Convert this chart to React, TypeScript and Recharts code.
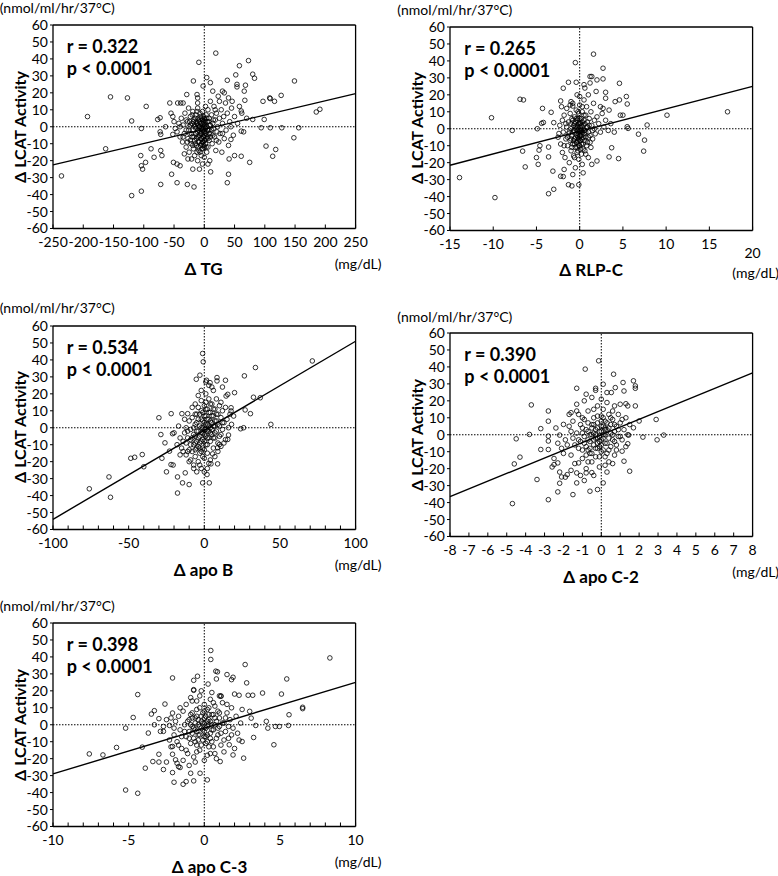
import React from "react";
import { ScatterChart, Scatter, XAxis, YAxis, ReferenceLine } from "recharts";

type Pt = [number, number];

const yTicks = [-60, -50, -40, -30, -20, -10, 0, 10, 20, 30, 40, 50, 60];

// Δ TG
const tgTicks = [-250, -200, -150, -100, -50, 0, 50, 100, 150, 200, 250];
const tgFit: Pt[] = [[-250, -22.5], [250, 19.5]];
const tgPoints: Pt[] = [
  [-236, -29], [-193, 6], [-163, -13], [-155, 17.6], [-127, 17], [-120, 3.4], [-120, -40.6], [-104, -38],
  [-105, -17], [-104, -23], [-102, -25], [-97, -21], [-96, 12], [-104, -1], [-88, -13], [-83, -18],
  [-77, 4.3], [-73, 5.3], [-73, -3], [-72, -4.5], [-72, -14], [-70, -17], [-72, -34], [-64, 0],
  [-57, 14], [-55, 8], [-52, 6], [-52, -4.5], [-54, -28], [-51, -21], [-45, -33], [-45, -22],
  [-40, -23], [-44, 14], [-39, 14], [-35, 14], [-29, 19], [-28, -34], [-19, -25], [-17, -35.5],
  [-18, 27], [-11, 14], [-12, 19], [-11, 17], [-9, 38], [-2, 24], [4, 29], [19, 43.4],
  [10, 26], [10.5, -26.6], [14, 21], [25, 15], [30, 21], [33, 20], [38, 27.4], [40, 17],
  [44, 0], [46, 15], [40, -28], [38, -33], [41, -19], [44, -7.5], [50, -17], [52, 30.6],
  [54, 25], [54, 23.5], [58, 36], [61, -17.4], [61, -2.6], [61, 9.3], [66, 21], [68, 24.5],
  [67, 15.6], [73, 39], [75, -21], [80, 31], [83, 28.6], [80, 4.3], [94, -0.6], [97, 15],
  [99, 4.3], [102, -11.4], [108, 17], [109, 16.6], [109, -0.6], [113, -17.4], [116, 15], [118, -13.4],
  [127, 18.5], [128, -0.6], [148, -6.5], [149, 27], [156, -0.6], [185, 8.7], [191, 10.3],
  [-48, -1], [-45, -3], [-42, 2], [-40, -6], [-38, 5], [-36, -9], [-35, 1], [-33, -4],
  [-32, 8], [-30, -12], [-30, -2], [-28, 3], [-27, -7], [-26, 11], [-25, -15], [-25, 0],
  [-24, -4], [-23, 6], [-22, -10], [-21, -19], [-20, 2], [-20, -6], [-19, 9], [-18, -2],
  [-18, -13], [-17, 4], [-16, -8], [-16, -17], [-15, 0], [-14, -4], [-14, 7], [-13, -11],
  [-12, 2], [-12, -6], [-11, -20], [-11, 11], [-10, -2], [-10, -9], [-9, 4], [-9, -14],
  [-8, 0], [-8, -5], [-7, 8], [-7, -3], [-6, -11], [-6, 2], [-5, -7], [-5, 5],
  [-5, -17], [-4, -1], [-4, -4], [-3, 9], [-3, -9], [-3, -22], [-2, 3], [-2, -6],
  [-2, -13], [-1, 0], [-1, -3], [-1, 6], [0, -8], [0, -18], [0, 1], [1, -5],
  [1, 4], [2, -1], [2, -10], [2, 12], [3, -3], [3, 7], [4, -15], [4, 0],
  [5, -6], [5, 3], [6, 10], [6, -12], [7, -2], [8, 5], [8, -8], [9, -20],
  [10, 1], [10, 15], [11, -4], [12, 7], [13, -10], [14, 2], [15, -1], [16, 12],
  [17, -6], [18, 4], [19, -14], [20, 8], [21, -3], [22, 0], [23, 18], [24, -9],
  [25, 5], [26, -4], [28, 10], [29, -15], [30, 2], [32, 6], [33, -7], [35, 14],
  [36, -2], [38, 8], [40, -11], [42, 3], [45, 11], [48, -5], [50, 6], [55, 2],
  [58, 12], [62, 8], [65, -3], [70, 5],
  [-26, -2], [-24, 3], [-23, -8], [-22, 1], [-21, -4], [-20, 7], [-19, -11], [-18, 3],
  [-17, -6], [-16, 1], [-15, -10], [-15, 5], [-14, -1], [-13, -7], [-13, 3], [-12, -15],
  [-12, 9], [-11, -3], [-11, 1], [-10, -12], [-10, 5], [-9, -6], [-9, 0], [-8, -9],
  [-8, 3], [-7, -15], [-7, 0], [-6, -4], [-6, 6], [-5, -1], [-5, -10], [-4, 2],
  [-4, -7], [-4, -13], [-3, -2], [-3, 4], [-2, -9], [-2, -1], [-1, -11], [-1, -6],
  [-1, 2], [0, -3], [0, -12], [0, 5], [1, -8], [1, 0], [2, -4], [2, 3],
  [3, -7], [3, -12], [4, 5], [5, -2], [6, -7], [7, 3], [8, -4], [9, 1],
  [10, -6], [12, -2], [14, -5], [15, 4], [-35, -6], [-30, 4], [-28, -9], [-40, 0],
  [-50, 3], [30, -4], [20, -8], [18, 10], [-33, -16], [-27, -19], [-8, -25], [6, -22],
];

// Δ RLP-C
const rlpTicks = [-15, -10, -5, 0, 5, 10, 15, 20];
const rlpFit: Pt[] = [[-15, -21.5], [20, 25]];
const rlpPoints: Pt[] = [
  [-13.9, -28.8], [-10.2, 6.5], [-9.8, -40.6], [-7.8, -1], [-6.9, 17.4], [-6.5, 17], [-6.6, -13.2], [-6.3, -22.5],
  [-4.9, 0], [-5, -17], [-4.8, -21], [-4.7, -12.6], [-4.6, -10], [-4.3, 12], [-4.2, 3.7], [-4.4, 3.2],
  [-3.6, -38.3], [-3.6, -10.8], [-3.6, -16.6], [-3.3, 9.7], [-3.1, -25], [-3, -35.7], [-3, 3.6], [-2.4, -2.8],
  [-2.2, 16.4], [-2.1, 13], [-1.9, 23.9], [-1.9, -28.2], [-1.3, 27.4], [-1.3, -33], [-0.9, -33.7], [-1.1, 14],
  [-0.8, 13.4], [-0.5, 39], [-0.4, 27.4], [-0.1, -33], [0.5, 26], [1.6, 44], [1.2, 30.8], [1.4, 30.8],
  [2, 28.8], [2.7, 35.7], [2.7, 29.4], [3, 21.5], [3, 18], [3.4, 11], [2.7, 12], [3.4, -16.6],
  [3.7, -11.2], [4.1, 16], [4.6, 17], [4.6, 26.8], [4.5, -17.6], [4.7, 8], [5, 8], [5.4, 19],
  [5.5, 14.6], [5.5, 1.2], [5.6, 0.2], [6.8, -3.2], [7.5, -6.7], [7.4, -13.2], [7.8, 2.2], [10.1, 8],
  [17.1, 10],
  [-2.5, -5], [-2.3, 2], [-2.2, -9], [-2, 5], [-2, -14], [-1.9, -2], [-1.8, 8], [-1.7, -17],
  [-1.6, -6], [-1.5, 1], [-1.5, 12], [-1.4, -10], [-1.3, -3], [-1.3, 4], [-1.2, -20], [-1.1, -7],
  [-1.1, 9], [-1, 0], [-1, -13], [-0.9, 6], [-0.9, -4], [-0.8, -9], [-0.8, 15], [-0.7, 2],
  [-0.7, -16], [-0.6, -1], [-0.6, -6], [-0.6, 7], [-0.5, -11], [-0.5, 4], [-0.5, -23], [-0.4, 0],
  [-0.4, -3], [-0.4, 11], [-0.3, -8], [-0.3, -14], [-0.3, 2], [-0.2, 6], [-0.2, -5], [-0.2, -1],
  [-0.1, -18], [-0.1, 9], [-0.1, -10], [0, 3], [0, -2], [0, -7], [0, 14], [0, 19],
  [0.1, -4], [0.1, 1], [0.1, -12], [0.2, 6], [0.2, -15], [0.2, -1], [0.3, 10], [0.3, -6],
  [0.3, -21], [0.4, 2], [0.4, -9], [0.5, 5], [0.5, -3], [0.5, 17], [0.6, -1], [0.6, -13],
  [0.7, 8], [0.7, -5], [0.8, 1], [0.8, 13], [0.9, -8], [0.9, 4], [1, -2], [1, -17],
  [1, 20], [1.1, 6], [1.2, -4], [1.3, 10], [1.3, -11], [1.4, 2], [1.5, -6], [1.6, 15],
  [1.7, 0], [1.8, -3], [2, 7], [2, -19], [2.2, 3], [2.4, -2], [2.6, 9], [2.8, 1],
  [3, 5], [3.3, -1], [3.6, 3], [4, -2], [2.4, 13], [1.9, 22], [1.2, 27], [0.6, 24],
  [-0.3, 20], [-1, 16], [-1.8, -24], [-2.2, -28], [-0.8, -27], [0.4, -26], [1.4, -21],
  [-1.2, -2], [-1, -6], [-1, 3], [-0.9, -11], [-0.8, -2], [-0.8, 5], [-0.7, -7], [-0.7, -1],
  [-0.6, -9], [-0.6, 3], [-0.5, -5], [-0.5, 1], [-0.4, -8], [-0.4, 6], [-0.3, -4], [-0.3, -11],
  [-0.3, 5], [-0.2, -7], [-0.2, 1], [-0.2, -13], [-0.1, -3], [-0.1, 3], [-0.1, -6], [0, -1],
  [0, -4], [0, -10], [0, 6], [0.1, -7], [0.1, -1], [0.1, 3], [0.2, -4], [0.2, -9],
  [0.2, 2], [0.3, -2], [0.3, 4], [0.4, -5], [0.4, -12], [0.5, -1], [0.5, 8], [0.6, -7],
  [0.6, 3], [0.7, -2], [0.8, -10], [0.9, 1], [1, -5], [1.1, 2], [1.2, -8], [-1.4, -5],
  [-1.6, 3], [-1.8, -10], [1.5, -1], [1.7, 5], [-0.2, 10], [0.3, 13], [-0.6, -17], [0.7, -15],
];

// Δ apo B
const apoBTicks = [-100, -90, -80, -70, -60, -50, -40, -30, -20, -10, 0, 10, 20, 30, 40, 50, 60, 70, 80, 90, 100];
const apoBLabels = [-100, -50, 0, 50, 100];
const apoBFit: Pt[] = [[-100, -54], [100, 51]];
const apoBPoints: Pt[] = [
  [-76, -36], [-63, -29], [-62, -41], [-48.6, -18], [-46, -17.4], [-41, -15.8], [-40, -23], [-30, 5.9],
  [-28.7, -4], [-28, -18], [-25, -26], [-26, -8.9], [-23, -13.8], [-22, -21.7], [-20.6, -22], [-21.9, 8.3],
  [-21, -3.5], [-17.7, -38.5], [-17.7, -29], [-14.4, -32.5], [-12.6, -26.6], [-10, -33.5], [-14.8, 8.3], [-11, 8.3],
  [-5.3, 28.6], [-2.9, 31], [-1.1, 43.8], [-0.7, 38.9], [-1.1, -32.5], [1.8, -27.6], [3.3, -32.5], [1.5, 28],
  [3.8, 26.6], [8.4, 29.6], [8.4, 27.6], [12, 24], [14, 28], [14.4, 18.7], [15.5, 19.7], [20, 20.7],
  [17.7, 11.8], [17.7, 9.9], [19.4, 6.9], [26.5, 30.6], [27, 10.5], [30.5, 8.3], [24, -0.6], [26, 0],
  [32.5, 18], [37, 17.7], [33.8, 35.5], [44, 2], [71.4, 39.4], [8.8, -21.3], [4.4, -21.3], [8.8, -11.8],
  [10, -9.9], [15.5, -6.9], [16, -4.3], [5.5, -15.4],
  [-15, -12], [-14, -8], [-13, -3], [-12, -16], [-12, 0], [-11, -6], [-10, -20], [-10, 4],
  [-9, -10], [-9, -1], [-8, -14], [-8, 6], [-7, -4], [-7, -22], [-6, 2], [-6, -9],
  [-6, -17], [-5, 8], [-5, -2], [-5, -12], [-4, -6], [-4, 12], [-4, -20], [-3, 1],
  [-3, -9], [-3, -15], [-2, 5], [-2, -3], [-2, 16], [-2, -24], [-1, -7], [-1, 0],
  [-1, 9], [-1, -12], [0, 3], [0, -4], [0, -18], [0, 13], [1, -1], [1, 7],
  [1, -10], [1, 20], [2, 2], [2, -6], [2, 11], [2, -15], [3, -2], [3, 5],
  [3, 17], [3, -21], [4, 0], [4, 9], [4, -8], [5, 3], [5, 14], [5, -4],
  [6, -12], [6, 7], [6, 22], [7, 1], [7, -6], [7, 11], [8, 4], [8, -2],
  [8, 17], [9, -9], [9, 8], [10, 1], [10, 13], [11, -4], [11, 6], [12, 10],
  [12, -1], [13, 3], [14, 12], [14, -7], [15, 5], [16, 0], [17, 8], [18, 2],
  [-16, -6], [-18, -10], [-20, -3], [-17, 1], [-13, 5], [-11, -14], [-9, -19], [-7, -24],
  [-5, -26], [-3, -22], [0, -26], [2, -24], [4, -19], [5, 24], [3, 25], [1, 27],
  [-2, 22], [-4, 19], [-6, 14], [-8, 12], [9, -14], [11, -11], [13, -9], [7, -17],
  [-8, -6], [-7, -10], [-7, 0], [-6, -5], [-6, -13], [-5, -8], [-5, 3], [-4, -2],
  [-4, -11], [-4, 5], [-3, -5], [-3, -12], [-3, 8], [-2, -8], [-2, 0], [-2, -14],
  [-1, -3], [-1, 4], [-1, -17], [0, -1], [0, -8], [0, 7], [0, -13], [1, 2],
  [1, -5], [1, 11], [2, -2], [2, 5], [2, -10], [3, 1], [3, -6], [3, 9],
  [4, -3], [4, 4], [4, 14], [5, -1], [5, 7], [6, 1], [6, -6], [6, 11],
  [7, 4], [7, -3], [8, 8], [9, 2], [10, -5], [-9, -7], [-10, -13], [-11, -2],
  [-12, -9], [-14, -14], [-16, -16], [11, 15], [12, 3], [-2, 10], [1, 15], [-6, 8],
];

// Δ apo C-2
const apoC2Ticks = [-8, -7, -6, -5, -4, -3, -2, -1, 0, 1, 2, 3, 4, 5, 6, 7, 8];
const apoC2Fit: Pt[] = [[-8, -36.5], [8, 36.5]];
const apoC2Points: Pt[] = [
  [-4.7, -40.6], [-4.6, -17.2], [-4.5, -2.4], [-4.3, -13.2], [-3.8, 0.2], [-3.7, 17.6], [-3.4, -26.4], [-3.2, 3.6],
  [-3.2, -8.7], [-2.8, 14], [-2.8, -0.8], [-2.8, -3.7], [-2.8, -8.7], [-2.8, -38.3], [-2.5, -17.6], [-2.3, -16.6],
  [-2.3, -33.7], [-2.2, -28.6], [-2.2, -0.2], [-2.1, -24.9], [-2, 6.1], [-1.8, -23.5], [-1.7, 12], [-1.5, -35.3],
  [-1.3, 27.4], [-1.3, 14], [-1.2, -16.6], [-1.3, -22.5], [-1.3, -28.4], [-0.85, 38.7], [-0.8, 23.9], [-0.6, -33.3],
  [-0.8, -22.5], [-0.5, -22.3], [-0.3, 27.4], [-0.3, 26.2], [-0.14, 43.6], [-0.2, -32.3], [0.1, 29.8], [0.1, -28.4],
  [0.3, 24.9], [0.53, 24.9], [0.65, 35.7], [0.74, 27.8], [1, 18], [1.1, -9.7], [1.15, 30.8], [1.2, 25.8],
  [1.2, -15.6], [1.4, 17], [1.3, 18.3], [1.4, -5.3], [1.45, -0.2], [1.5, -21.5], [1.7, 31.8], [1.7, 4.1],
  [1.8, 27.4], [1.8, 28.8], [1.8, 17], [2, 8.1], [2.2, -1.4], [2.9, 9], [2.95, -3], [3.3, -0.2],
  [-1.8, -6], [-1.7, 5], [-1.6, -12], [-1.5, -2], [-1.5, 8], [-1.4, -17], [-1.3, 1], [-1.2, -8],
  [-1.2, 12], [-1.1, -4], [-1, 4], [-1, -14], [-0.9, -1], [-0.9, 9], [-0.8, -7], [-0.8, -20],
  [-0.7, 2], [-0.7, 14], [-0.6, -4], [-0.6, -11], [-0.5, 6], [-0.5, 0], [-0.5, -16], [-0.4, -6],
  [-0.4, 10], [-0.3, -2], [-0.3, 3], [-0.3, -13], [-0.2, 7], [-0.2, -8], [-0.2, 17], [-0.1, -1],
  [-0.1, -4], [-0.1, -19], [0, 2], [0, 11], [0, -10], [0, -6], [0.1, 5], [0.1, -2],
  [0.1, 15], [0.2, -13], [0.2, 0], [0.2, 8], [0.3, -5], [0.3, 3], [0.4, -9], [0.4, 12],
  [0.4, -16], [0.5, 1], [0.5, 6], [0.6, -3], [0.6, 9], [0.7, -12], [0.7, 2], [0.8, 5],
  [0.8, -6], [0.9, 12], [0.9, -1], [1, 7], [1.1, -3], [1.2, 3], [1.3, 10], [1.4, 0],
  [1.5, 6], [-2, -11], [-2.3, -5], [-2.5, -14], [-2.6, -19], [-2.2, -22], [-1.9, -25], [-1.6, -21],
  [-1.1, -24], [-0.9, -27], [-0.4, -24], [0.3, -22], [0.6, -17], [-1.3, 18], [-0.9, 20], [-0.5, 22],
  [0, 21], [0.3, 19], [0.7, 17], [-2.4, 4], [-2.8, 8], [-1.6, 13], [-0.7, -9], [-0.2, -2],
  [0.2, 4], [-0.4, 1],
  [-1.2, -3], [-1.1, 6], [-1, -9], [-1, 1], [-0.9, -5], [-0.8, 3], [-0.8, -12], [-0.7, -3],
  [-0.7, 7], [-0.6, -8], [-0.6, 0], [-0.5, 4], [-0.5, -11], [-0.4, -3], [-0.4, 6], [-0.3, -8],
  [-0.3, 0], [-0.2, -5], [-0.2, 4], [-0.2, 11], [-0.1, -7], [-0.1, 2], [-0.1, -13], [0, -3],
  [0, 5], [0, 8], [0.1, -9], [0.1, 0], [0.1, 10], [0.2, -5], [0.2, 3], [0.3, -11],
  [0.3, 7], [0.4, -2], [0.4, 4], [0.5, -7], [0.5, 10], [0.6, 0], [0.7, -4], [0.7, 6],
  [0.8, -9], [0.9, 3], [1, -1], [1.1, 9], [-1.4, -6], [-1.6, 2], [-1.9, -3], [-2.1, -8],
  [1.3, -7], [0.6, 14], [-0.4, 15], [-1, 10], [0.2, -18], [-0.7, -16],
];

// Δ apo C-3
const apoC3Ticks = [-10, -9, -8, -7, -6, -5, -4, -3, -2, -1, 0, 1, 2, 3, 4, 5, 6, 7, 8, 9, 10];
const apoC3Labels = [-10, -5, 0, 5, 10];
const apoC3Fit: Pt[] = [[-10, -29], [10, 25]];
const apoC3Points: Pt[] = [
  [-7.6, -17.2], [-6.7, -17.8], [-5.8, -13.4], [-5.2, -2], [-5.2, -38.5], [-4.7, 4.3], [-4.4, 17.8], [-4.4, -40.4],
  [-4.1, -13.2], [-3.9, -25.6], [-3.7, -4.9], [-3.5, 6.3], [-3.3, 8.3], [-3.4, -21.7], [-3.3, 0], [-3, 3.6],
  [-3, -17.4], [-3, -22], [-2.9, -3.9], [-2.7, -3.9], [-2.7, -26.4], [-2.6, 12.2], [-2.5, -22], [-2.3, -0.4],
  [-2.1, -12.8], [-2.1, -17.4], [-2.1, 27.6], [-2.1, -28.2], [-2, -33.9], [-2.1, 6.9], [-1.9, -20.7], [-1.8, -22.7],
  [-1.7, -24.7], [-1.6, -25.2], [-1.4, -35.1], [-1.2, -33.5], [-0.9, -28.6], [-0.7, -33.1], [-0.7, 26.2], [-0.7, 20.7],
  [-0.7, 20.3], [-0.45, 28.6], [-0.28, -28.6], [0.2, -32.5], [0.25, 24], [0.43, 43.8], [0.43, 38.5], [0.76, 31.6],
  [0.87, 31.2], [0.8, 27], [1, 17], [1.1, 16.8], [1.05, -21.7], [1.5, 29.6], [1.65, -11.8], [1.8, 26.6],
  [1.9, 28], [1.9, -17.8], [2, 18.1], [2.3, 17.4], [2.5, -9.9], [2.6, -19.7], [2.7, 35.5], [2.8, 24.7],
  [2.9, 17.4], [3, 7.9], [3.1, 3.9], [3.2, 17.4], [3.26, -7.5], [3.4, -0.4], [3.85, 18.7], [4.1, 2],
  [4.2, -2], [4.6, -11.8], [4.7, -1], [4.96, -1], [5.1, 18.1], [5.45, 27], [5.56, -0.4], [5.6, 5.9],
  [6.5, 10.3], [6.5, 9.5], [8.3, 39.4],
  [-2, -6], [-1.9, 2], [-1.8, -10], [-1.7, 5], [-1.6, -3], [-1.5, -14], [-1.4, 8], [-1.3, 0],
  [-1.2, -7], [-1.2, 12], [-1.1, -17], [-1, 3], [-1, -4], [-0.9, -11], [-0.9, 6], [-0.8, -1],
  [-0.8, 14], [-0.7, -8], [-0.7, -19], [-0.6, 4], [-0.6, -3], [-0.5, 9], [-0.5, -12], [-0.4, 0],
  [-0.4, -6], [-0.3, 17], [-0.3, -15], [-0.2, 2], [-0.2, -2], [-0.1, 7], [-0.1, -9], [0, -4],
  [0, 1], [0, 12], [0, -21], [0.1, 5], [0.1, -7], [0.2, -1], [0.2, 9], [0.3, -13],
  [0.3, 3], [0.4, -5], [0.4, 15], [0.5, 0], [0.5, -10], [0.6, 6], [0.6, -3], [0.7, 11],
  [0.7, -17], [0.8, 2], [0.9, -6], [0.9, 8], [1, -1], [1, 4], [1.1, -12], [1.2, 13],
  [1.3, 1], [1.4, -4], [1.5, 7], [1.6, -8], [1.7, 3], [1.8, 10], [1.9, -2], [2, -14],
  [2.1, 5], [2.2, -5], [2.4, 1], [2.5, 9], [-2.3, -9], [-2.5, 3], [-2.7, -1], [-2.2, -13],
  [-1.4, -21], [-1, -24], [-0.6, -22], [0.2, -18], [0.8, -20], [1.3, -16], [-1.6, 10], [-0.9, 16],
  [-0.2, 20], [0.5, 19], [1.1, 17], [-0.5, -16], [0.2, -10], [-0.3, -1], [0.3, 6], [-0.8, 4],
  [-1.3, -4], [-1.1, 2], [-1, -8], [-0.9, 0], [-0.8, -5], [-0.8, 7], [-0.7, -2], [-0.6, -10],
  [-0.6, 1], [-0.5, -4], [-0.5, 5], [-0.4, -9], [-0.4, 3], [-0.3, -6], [-0.3, 10], [-0.2, -12],
  [-0.2, 5], [-0.1, -3], [-0.1, 1], [0, -7], [0, 4], [0, 8], [0.1, -2], [0.1, -11],
  [0.2, 2], [0.2, -6], [0.3, 0], [0.3, 10], [0.4, -8], [0.4, 2], [0.5, -3], [0.5, 6],
  [0.6, -13], [0.7, 0], [0.7, 4], [0.8, -8], [0.9, -2], [1, 7], [1.1, -5], [1.2, 1],
  [1.3, -9], [1.4, 4], [1.6, -1], [1.8, -6], [-1.5, -7], [-1.7, -12], [-2, -2], [-2.2, 4],
  [0.6, 13], [-0.5, 14], [1.5, 12], [-1.2, -15], [0.4, -17], [2.3, -9],
];

const PW = 301.6;
const PH = 202.5;
const ML = 52;
const MT = 30;
const MR = 30;
const MB = 60;

const panels = [
  { id: "tg", left: 52.7, top: 25.3, domain: [-250, 250], ticks: tgTicks, labels: tgTicks, points: tgPoints, fit: tgFit, title: "Δ TG", r: "r = 0.322", titleDx: 0, unitDy: -17, mgDy: 36, lowered: null },
  { id: "rlp", left: 450.3, top: 26.7, domain: [-15, 20], ticks: rlpTicks, labels: rlpTicks, points: rlpPoints, fit: rlpFit, title: "Δ RLP-C", r: "r = 0.265", titleDx: -10, unitDy: -17, mgDy: 44, lowered: 20 },
  { id: "apob", left: 52.7, top: 326, domain: [-100, 100], ticks: apoBTicks, labels: apoBLabels, points: apoBPoints, fit: apoBFit, title: "Δ apo B", r: "r = 0.534", titleDx: 0, unitDy: -18, mgDy: 36, lowered: null },
  { id: "apoc2", left: 450.3, top: 333.3, domain: [-8, 8], ticks: apoC2Ticks, labels: apoC2Ticks, points: apoC2Points, fit: apoC2Fit, title: "Δ apo C-2", r: "r = 0.390", titleDx: 0, unitDy: -16, mgDy: 36, lowered: null },
  { id: "apoc3", left: 52.7, top: 623.3, domain: [-10, 10], ticks: apoC3Ticks, labels: apoC3Labels, points: apoC3Points, fit: apoC3Fit, title: "Δ apo C-3", r: "r = 0.398", titleDx: 6, unitDy: -17, mgDy: 36, lowered: null },
];

const FONT = "Lato, 'Open Sans', sans-serif";
const frame = { stroke: "#000", strokeWidth: 1.3 };

const Ring = (props: any) => (
  <circle cx={props.cx} cy={props.cy} r={2.3} fill="none" stroke="#000" strokeWidth={0.8} />
);

function Panel(p: any) {
  const W = ML + PW + MR;
  const H = MT + PH + MB;
  const bottom = MT + PH;
  const data = p.points.map(([x, y]: Pt) => ({ x, y }));
  const fit = p.fit.map(([x, y]: Pt) => ({ x, y }));

  const xTick = (t: any) => {
    const v = t.payload.value;
    if (!p.labels.includes(v)) return <g />;
    return (
      <text x={t.x} y={bottom + 20 + (v === p.lowered ? 9 : 0)} textAnchor="middle" fontSize={14} fontFamily={FONT} fill="#000">
        {v}
      </text>
    );
  };

  return (
    <>
      <div style={{ position: "absolute", left: p.left - ML, top: p.top - MT, width: W, height: H }}>
        <ScatterChart width={W} height={H} margin={{ top: MT - 1, right: MR - 1, bottom: MB - 1, left: 0 }}>
          <XAxis xAxisId="b" type="number" dataKey="x" domain={p.domain} ticks={p.ticks} interval={0} height={1}
            mirror tickSize={4} axisLine={frame} tickLine={{ stroke: "#000" }} tick={xTick} />
          <XAxis xAxisId="t" orientation="top" type="number" dataKey="x" domain={p.domain} ticks={p.ticks} interval={0}
            height={1} tickSize={4} tick={false} axisLine={frame} tickLine={{ stroke: "#000" }} />
          <YAxis yAxisId="l" type="number" dataKey="y" domain={[-60, 60]} ticks={yTicks} interval={0} width={ML}
            tickSize={3} tickMargin={2} axisLine={frame} tickLine={{ stroke: "#000" }}
            tick={{ fill: "#000", fontSize: 14, fontFamily: FONT }} />
          <YAxis yAxisId="r" orientation="right" type="number" dataKey="y" domain={[-60, 60]} ticks={yTicks} interval={0}
            width={1} mirror tickSize={4} tick={false} axisLine={frame} tickLine={{ stroke: "#000" }} />
          <ReferenceLine xAxisId="b" yAxisId="l" x={0} stroke="#000" strokeWidth={1} strokeDasharray="1.5 1.5" />
          <ReferenceLine xAxisId="b" yAxisId="l" y={0} stroke="#000" strokeWidth={1} strokeDasharray="1.5 1.5" />
          <Scatter xAxisId="b" yAxisId="l" data={data} shape={Ring} isAnimationActive={false} />
          <Scatter xAxisId="t" yAxisId="r" data={fit} line={{ stroke: "#000", strokeWidth: 1.4 }} lineType="joint"
            shape={() => <g />} isAnimationActive={false} />
        </ScatterChart>
      </div>

      <div style={{ position: "absolute", left: p.left - 53, top: p.top + p.unitDy, transform: "translateY(-50%)", fontSize: 14, lineHeight: 1, whiteSpace: "nowrap" }}>
        (nmol/ml/hr/37°C)
      </div>
      <div style={{ position: "absolute", left: p.left - 33, top: p.top + PH / 2, transform: "translate(-50%, -50%) rotate(-90deg)", fontSize: 16, fontWeight: 700, lineHeight: 1, whiteSpace: "nowrap" }}>
        Δ LCAT Activity
      </div>
      <div style={{ position: "absolute", left: p.left + 14, top: p.top + 21, transform: "translateY(-50%)", fontSize: 18, fontWeight: 700, lineHeight: 1, whiteSpace: "nowrap" }}>
        {p.r}
      </div>
      <div style={{ position: "absolute", left: p.left + 14, top: p.top + 43, transform: "translateY(-50%)", fontSize: 18, fontWeight: 700, lineHeight: 1, whiteSpace: "nowrap" }}>
        p &lt; 0.0001
      </div>
      <div style={{ position: "absolute", left: p.left + PW / 2 + p.titleDx, top: p.top + PH + 40, transform: "translate(-50%, -50%)", fontSize: 17, fontWeight: 700, lineHeight: 1, whiteSpace: "nowrap" }}>
        {p.title}
      </div>
      <div style={{ position: "absolute", left: p.left + 282, top: p.top + PH + p.mgDy, transform: "translateY(-50%)", fontSize: 14, lineHeight: 1, whiteSpace: "nowrap" }}>
        (mg/dL)
      </div>
    </>
  );
}

export default function App() {
  return (
    <div style={{ position: "absolute", left: 0, top: 0, width: 778, height: 876, background: "#fff", color: "#000", fontFamily: FONT }}>
      {panels.map((p) => (
        <Panel key={p.id} {...p} />
      ))}
    </div>
  );
}
